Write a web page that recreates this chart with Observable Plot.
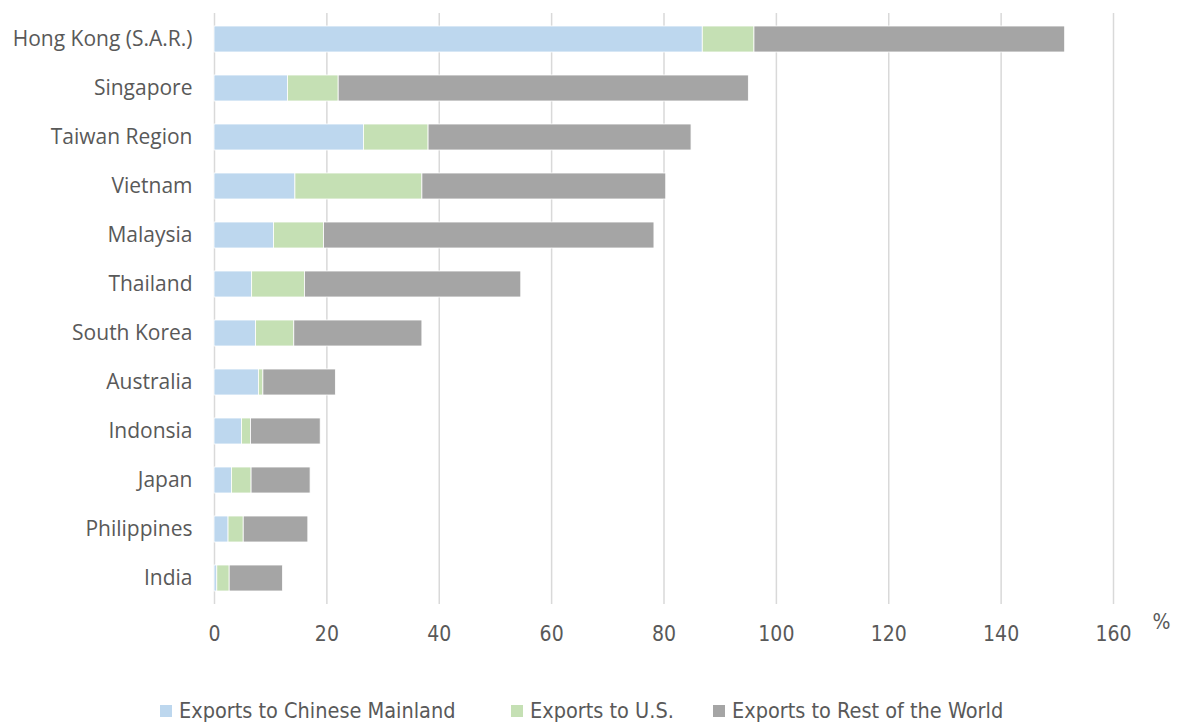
<!DOCTYPE html>
<html>
<head>
<meta charset="utf-8">
<script src="https://cdn.jsdelivr.net/npm/d3@7"></script>
<script src="https://cdn.jsdelivr.net/npm/@observablehq/plot@0.6"></script>
<style>
  html, body { margin: 0; padding: 0; background: #fff; }
  #wrap { position: relative; width: 1179px; height: 723px; }
  .legend { position: absolute; top: 698px; left: 0; width: 1179px; height: 28px;
            font-family: "Liberation Sans Narrow", "DejaVu Sans Condensed", sans-serif; font-size: 21.5px; color: #595959; }
  .item { position: absolute; top: 0; display: flex; align-items: center; white-space: nowrap; }
  .sw { width: 12px; height: 12px; margin-right: 7px; }
</style>
</head>
<body>
<div id="wrap">
  <div id="chart"></div>
  <div class="legend" id="legend"></div>
</div>
<script>
const countries = ["Hong Kong (S.A.R.)", "Singapore", "Taiwan Region", "Vietnam", "Malaysia", "Thailand",
  "South Korea", "Australia", "Indonsia", "Japan", "Philippines", "India"];
const mainland = [86.9, 13.1, 26.6, 14.4, 10.6, 6.7, 7.4, 7.9, 4.9, 3.1, 2.5, 0.5];
const usa      = [9.2, 9.0, 11.5, 22.6, 8.9, 9.4, 6.8, 0.8, 1.6, 3.5, 2.7, 2.2];
const rest     = [55.3, 73.0, 46.8, 43.4, 58.8, 38.5, 22.8, 12.9, 12.4, 10.5, 11.5, 9.5];
const seriesNames = ["Exports to Chinese Mainland", "Exports to U.S.", "Exports to Rest of the World"];
const seriesColors = ["#bdd7ee", "#c5e0b4", "#a5a5a5"];
const xTicks = [0, 20, 40, 60, 80, 100, 120, 140, 160];

const seriesValues = [mainland, usa, rest];
const data = [];
countries.forEach((c, i) => {
  seriesValues.forEach((vals, s) => data.push({country: c, series: seriesNames[s], order: s, value: vals[i]}));
});

const narrow = "'Liberation Sans Narrow', 'DejaVu Sans Condensed', sans-serif";
const chart = Plot.plot({
  width: 1179,
  height: 660,
  marginLeft: 214,
  marginRight: 66,
  marginTop: 13,
  marginBottom: 56,
  style: {fontFamily: "'Open Sans', sans-serif", color: "#595959", background: "#fff"},
  x: {domain: [0, 160], ticks: xTicks},
  y: {domain: countries, paddingInner: 0.46, paddingOuter: 0.23},
  color: {domain: seriesNames, range: seriesColors},
  marks: [
    Plot.gridX(xTicks, {stroke: "#d9d9d9", strokeOpacity: 1, strokeWidth: 1.5}),
    Plot.barX(data, Plot.stackX({x: "value", y: "country", fill: "series", order: seriesNames,
      stroke: "#ffffff", strokeWidth: 0.8})),
    Plot.axisY({tickSize: 0, tickPadding: 22, fontSize: 21, label: null, fill: "#595959"}),
    Plot.axisX(xTicks, {tickSize: 0, tickPadding: 22, fontSize: 21, label: null,
      fontFamily: narrow, fill: "#595959"}),
    Plot.text(["%"], {frameAnchor: "bottom-right", dx: 57, dy: 24, fontSize: 21,
      fontFamily: narrow, fill: "#595959"})
  ]
});
document.getElementById("chart").appendChild(chart);

const legend = document.getElementById("legend");
const legendX = [160, 511, 713];
seriesNames.forEach((name, i) => {
  const it = document.createElement("div");
  it.className = "item";
  it.style.left = legendX[i] + "px";
  const sw = document.createElement("span");
  sw.className = "sw";
  sw.style.background = seriesColors[i];
  const tx = document.createElement("span");
  tx.textContent = name;
  it.appendChild(sw); it.appendChild(tx);
  legend.appendChild(it);
});
</script>
</body>
</html>
